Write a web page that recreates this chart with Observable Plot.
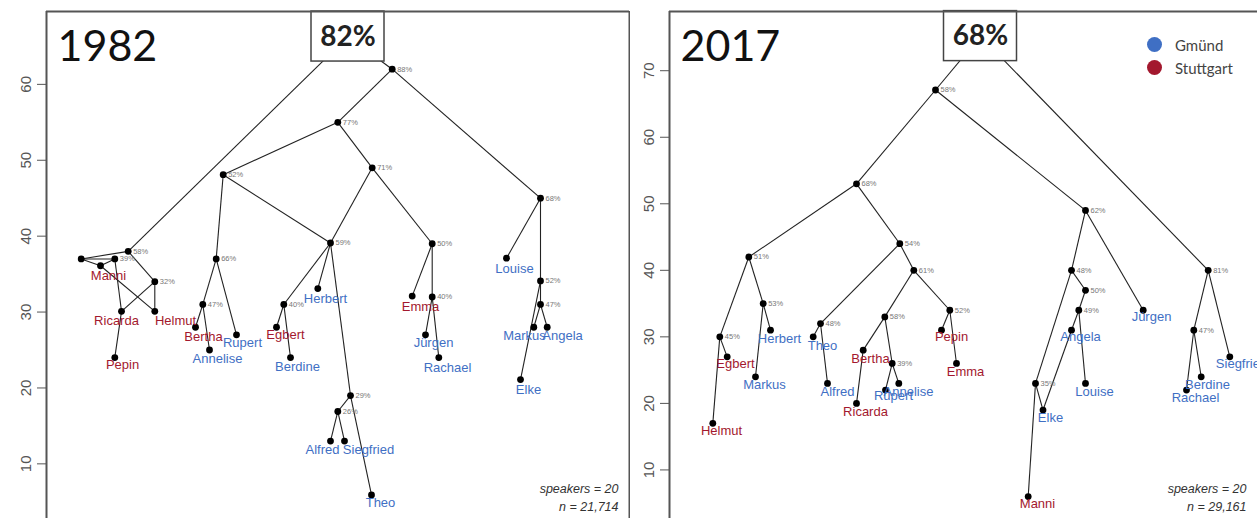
<!DOCTYPE html>
<html><head><meta charset="utf-8">
<script src="https://cdn.jsdelivr.net/npm/d3@7"></script>
<script src="https://cdn.jsdelivr.net/npm/@observablehq/plot@0.6"></script>
<style>
body{margin:0;background:#fff;}
#wrap{position:relative;width:1257px;height:518px;display:flex;overflow:hidden;background:#fff;}
#legend{position:absolute;left:1147px;top:33px;font-family:Lato,sans-serif;font-size:15px;color:#444;}
.row{display:flex;align-items:center;height:23px;}
.sw{width:15px;height:15px;border-radius:50%;margin-right:13px;}
</style></head><body><div id="wrap"></div><script>
// ---------- shared ----------
const groups = ["Gmünd", "Stuttgart"];
const groupColors = ["#3f6fc4", "#a3182e"];

// ---------- 1982 ----------
const year82 = "1982";
const note82 = "speakers = 20\nn = 21,714";
const ticks82 = [10, 20, 30, 40, 50, 60];
const yDomain82 = [2.8, 69.6];
const xDomain82 = [0, 583];
const nodeId82  = ["root","n88","n77","n71","n52","n59","n58","n66","nA","n39","n32","n47","n40","n29","n26","n50","n48","n68","n52b","n47b"];
const nodeX82   = [301.5, 345.7, 291.3, 325.7, 176.7, 284, 81.7, 169.7, 34.7, 68.3, 108.3, 156.3, 237.3, 304, 291.3, 385.7, 385.7, 494, 494, 494];
const nodeY82   = [66.3, 62, 55, 49, 48.1, 39.1, 38, 37, 37, 37, 34, 31, 31, 19, 16.9, 39, 32, 45, 34.1, 31];
const nodePct82 = ["82%","88%","77%","71%","52%","59%","58%","66%","","39%","32%","47%","40%","29%","26%","50%","40%","68%","52%","47%"];
const leaf82    = ["Manni","Ricarda","Helmut","Pepin","Bertha","Annelise","Rupert","Egbert","Berdine","Herbert","Alfred","Siegfried","Theo","Emma","Jürgen","Rachael","Louise","Markus","Angela","Elke"];
const leafX82   = [54, 75, 108.3, 68.3, 149, 163, 190, 230, 244, 271.3, 284, 298, 325, 365.7, 379, 392.3, 460, 487.3, 500.7, 474];
const leafY82   = [36.1, 30.1, 30.1, 24, 28, 25, 27, 28, 24, 33.1, 13, 13, 5.9, 32.1, 27, 24, 37.1, 28, 28, 21.1];
const leafGroup82 = ["Stuttgart","Stuttgart","Stuttgart","Stuttgart","Stuttgart","Gmünd","Gmünd","Stuttgart","Gmünd","Gmünd","Gmünd","Gmünd","Gmünd","Stuttgart","Gmünd","Gmünd","Gmünd","Gmünd","Gmünd","Gmünd"];
const labelX82  = [62, 70, 129, 76, 157, 171, 196, 239, 251, 279, 276, 322, 334, 374, 387, 401, 468, 478, 516, 482];
const labelY82  = [34.8, 28.9, 28.9, 23.1, 26.8, 23.9, 26.0, 27.0, 22.8, 31.8, 11.8, 11.8, 4.8, 30.7, 26.0, 22.7, 35.7, 26.9, 26.9, 19.7];
const edges82 = [
  ["root","n58"],["root","n88"],["n88","n77"],["n88","n68"],["n77","n52"],["n77","n71"],
  ["n52","n66"],["n52","n59"],["n71","n59"],["n71","n50"],["n66","n47"],["n66","Rupert"],
  ["n47","Bertha"],["n47","Annelise"],["n59","n40"],["n59","Herbert"],["n59","n29"],
  ["n40","Egbert"],["n40","Berdine"],["n29","n26"],["n29","Theo"],["n26","Alfred"],["n26","Siegfried"],
  ["n50","Emma"],["n50","n48"],["n48","Jürgen"],["n48","Rachael"],["n68","Louise"],["n68","n52b"],
  ["n52b","n47b"],["n52b","Elke"],["n47b","Markus"],["n47b","Angela"],
  ["n58","nA"],["n58","n32"],["nA","n39"],["nA","Manni"],["n39","Manni"],["n39","Ricarda"],
  ["Manni","Helmut"],["n32","Helmut"],["n32","Ricarda"],["Ricarda","Pepin"]
];

// ---------- 2017 ----------
const year17 = "2017";
const note17 = "speakers = 20\nn = 29,161";
const ticks17 = [10, 20, 30, 40, 50, 60, 70];
const yDomain17 = [2.7, 78.9];
const xDomain17 = [0, 588];
const nodeId17  = ["root","r58","r68","r54","r51","r53","r45","r48","r61","r58b","r39","r52","r62","r48b","r50","r49","r35","r81","r47"];
const nodeX17   = [311, 266, 187, 230.3, 79.3, 93.7, 50.3, 151, 244.3, 215.3, 222.7, 280.3, 416, 402, 416, 409.3, 366, 538.7, 524.3];
const nodeY17   = [75.2, 67.1, 53, 44, 42, 35, 30, 32, 40, 33, 26, 34, 49, 40, 37, 34, 23, 40, 31];
const nodePct17 = ["68%","58%","68%","54%","51%","53%","45%","48%","61%","58%","39%","52%","62%","48%","50%","49%","35%","81%","47%"];
const leaf17    = ["Herbert","Egbert","Markus","Helmut","Theo","Alfred","Bertha","Ricarda","Rupert","Annelise","Pepin","Emma","Angela","Louise","Elke","Manni","Jürgen","Siegfried","Berdine","Rachael"];
const leafX17   = [101, 57.7, 86, 43.3, 143.7, 158, 193.7, 187, 216, 229.3, 272, 287, 402, 416, 373.5, 358.7, 473.7, 560.3, 531.7, 517];
const leafY17   = [31, 27, 24, 17, 30, 23, 28, 20, 22, 23, 31, 26, 31, 23, 19, 6, 34, 27, 24, 22];
const leafGroup17 = ["Gmünd","Stuttgart","Gmünd","Stuttgart","Gmünd","Gmünd","Stuttgart","Stuttgart","Gmünd","Gmünd","Stuttgart","Stuttgart","Gmünd","Gmünd","Gmünd","Stuttgart","Gmünd","Gmünd","Gmünd","Gmünd"];
const labelX17  = [110, 66, 95, 52, 153, 168, 201, 196, 224, 239, 282, 296, 411, 425, 381, 368, 482, 572, 538, 526];
const labelY17  = [29.7, 26.0, 22.8, 15.9, 28.7, 21.7, 26.7, 18.8, 21.2, 21.8, 30.0, 24.7, 30.0, 21.8, 17.9, 4.9, 33.0, 26.0, 22.8, 20.8];
const edges17 = [
  ["root","r58"],["root","r81"],["r58","r68"],["r58","r62"],["r68","r51"],["r68","r54"],
  ["r51","r45"],["r51","r53"],["r45","Egbert"],["r45","Helmut"],["r53","Herbert"],["r53","Markus"],
  ["r54","r48"],["r54","r61"],["r48","Theo"],["r48","Alfred"],["r61","r58b"],["r61","r52"],
  ["r58b","Bertha"],["r58b","r39"],["Bertha","Ricarda"],["r39","Rupert"],["r39","Annelise"],
  ["r52","Pepin"],["r52","Emma"],["r62","r48b"],["r62","Jürgen"],["r48b","r50"],["r48b","r35"],
  ["r50","r49"],["r49","Angela"],["r49","Louise"],["Angela","Elke"],["r35","Elke"],["r35","Manni"],
  ["r81","r47"],["r81","Siegfried"],["r47","Rachael"],["r47","Berdine"]
];

// ---------- build ----------
function panel(o) {
  const nodes = o.nodeId.map((id, i) => ({id, x: o.nodeX[i], y: o.nodeY[i], pct: o.nodePct[i]}));
  const leaves = o.leaf.map((name, i) => ({id: name, name, x: o.leafX[i], y: o.leafY[i], group: o.leafGroup[i], lx: o.labelX[i], ly: o.labelY[i]}));
  const all = new Map([...nodes, ...leaves].map(d => [d.id, d]));
  const links = o.edges.map(([a, b]) => ({a: all.get(a), b: all.get(b)}));
  const root = nodes.filter(d => d.id === "root");
  const inner = nodes.filter(d => d.id !== "root");
  const frame = {stroke: "#555", strokeWidth: 2};
  const marks = [
    Plot.axisY({ticks: o.ticks, tickRotate: -90, tickSize: 9, tickPadding: 7, fontSize: 15, color: "#555", label: null, anchor: "left"}),
    Plot.link(links, {x1: d => d.a.x, y1: d => d.a.y, x2: d => d.b.x, y2: d => d.b.y, stroke: "#222", strokeWidth: 1.1}),
    Plot.rect(root, {x1: "x", x2: "x", y1: "y", y2: "y", insetLeft: -36.5, insetRight: -36.5, insetTop: -25, insetBottom: -25, fill: "white", stroke: "#444", strokeWidth: 1.5}),
    Plot.text(root, {x: "x", y: "y", text: "pct", fontSize: 28, fontWeight: "bold", fontFamily: "Lato", fill: "#222"}),
    Plot.ruleY([o.yDomain[1]], frame),
    Plot.ruleX([o.xDomain[0]], frame),
    Plot.dot([...inner, ...leaves], {x: "x", y: "y", r: 3.4, fill: "#000", stroke: "none"}),
    Plot.text(inner, {x: "x", y: "y", text: "pct", dx: 5, textAnchor: "start", fontSize: 7.5, fill: "#777"}),
    Plot.text(leaves, {x: "lx", y: "ly", text: "name", fill: "group", fontSize: 13}),
    Plot.text([o.year], {frameAnchor: "top-left", text: d => d, textAnchor: "start", lineAnchor: "top", dx: 11, dy: 19, fontSize: 43, fontFamily: "Lato", fill: "#111"}),
    Plot.text([o.note], {frameAnchor: "bottom-right", text: d => d, textAnchor: "end", lineAnchor: "bottom", dx: -11, dy: -8, fontSize: 12.5, fontStyle: "italic", lineHeight: 1.4, fill: "#333"})
  ];
  if (o.rightFrame) marks.push(Plot.ruleX([o.xDomain[1]], frame));
  return Plot.plot({
    width: o.width, height: 518,
    marginLeft: o.marginLeft, marginRight: o.marginRight, marginTop: 11, marginBottom: 0,
    x: {domain: o.xDomain, axis: null},
    y: {domain: o.yDomain, axis: null},
    color: {domain: groups, range: groupColors},
    style: {fontFamily: "Liberation Sans, sans-serif", background: "#fff", overflow: "hidden"},
    marks
  });
}

const wrap = document.getElementById("wrap");
wrap.append(panel({
  width: 630, marginLeft: 46, marginRight: 1, xDomain: xDomain82, yDomain: yDomain82, ticks: ticks82,
  nodeId: nodeId82, nodeX: nodeX82, nodeY: nodeY82, nodePct: nodePct82,
  leaf: leaf82, leafX: leafX82, leafY: leafY82, leafGroup: leafGroup82, labelX: labelX82, labelY: labelY82,
  edges: edges82, year: year82, note: note82, rightFrame: true
}));
wrap.append(panel({
  width: 627, marginLeft: 39, marginRight: 0, xDomain: xDomain17, yDomain: yDomain17, ticks: ticks17,
  nodeId: nodeId17, nodeX: nodeX17, nodeY: nodeY17, nodePct: nodePct17,
  leaf: leaf17, leafX: leafX17, leafY: leafY17, leafGroup: leafGroup17, labelX: labelX17, labelY: labelY17,
  edges: edges17, year: year17, note: note17, rightFrame: false
}));

// legend
const legend = document.createElement("div");
legend.id = "legend";
groups.forEach((g, i) => {
  const row = document.createElement("div");
  row.className = "row";
  const sw = document.createElement("span");
  sw.className = "sw";
  sw.style.background = groupColors[i];
  const t = document.createElement("span");
  t.textContent = g;
  row.append(sw, t);
  legend.append(row);
});
wrap.append(legend);
</script></body></html>
